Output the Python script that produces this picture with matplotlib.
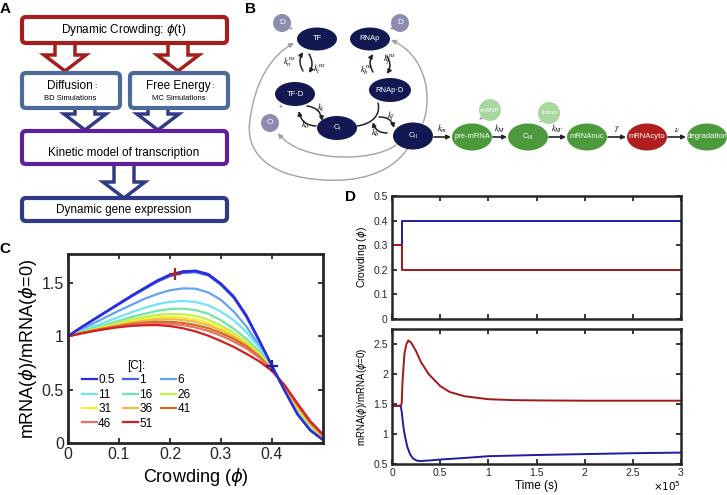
import numpy as np
import matplotlib.pyplot as plt
from matplotlib.patches import FancyBboxPatch, FancyArrow, Ellipse, Circle, FancyArrowPatch
from matplotlib.path import Path

plt.rcParams['font.family'] = ['Liberation Sans', 'DejaVu Sans']
plt.rcParams['mathtext.fontset'] = 'dejavusans'

# ---- panel C: mRNA(phi)/mRNA(0) vs crowding, one curve per [C] ----
phi = [0, 0.025, 0.05, 0.075, 0.1, 0.125, 0.15, 0.175, 0.2, 0.225, 0.25,
       0.275, 0.3, 0.325, 0.35, 0.375, 0.4, 0.425, 0.45, 0.475, 0.5]
c_05 = [1.0, 1.08, 1.155, 1.23, 1.305, 1.38, 1.45, 1.52, 1.575, 1.605, 1.612,
        1.58, 1.49, 1.37, 1.19, 0.96, 0.72, 0.49, 0.27, 0.12, 0.03]
c_1 = [1.0, 1.079, 1.153, 1.227, 1.30, 1.373, 1.442, 1.51, 1.563, 1.593, 1.60,
       1.57, 1.48, 1.36, 1.18, 0.955, 0.72, 0.49, 0.27, 0.12, 0.03]
c_6 = [1.0, 1.06, 1.12, 1.18, 1.24, 1.295, 1.35, 1.395, 1.43, 1.448, 1.445,
       1.41, 1.34, 1.23, 1.09, 0.91, 0.715, 0.50, 0.28, 0.13, 0.035]
c_11 = [1.0, 1.045, 1.09, 1.135, 1.18, 1.225, 1.265, 1.30, 1.322, 1.33, 1.32,
        1.29, 1.23, 1.15, 1.04, 0.89, 0.71, 0.50, 0.29, 0.14, 0.04]
c_16 = [1.0, 1.037, 1.074, 1.11, 1.145, 1.18, 1.21, 1.238, 1.255, 1.258, 1.245,
        1.21, 1.15, 1.07, 0.975, 0.855, 0.705, 0.51, 0.31, 0.15, 0.045]
c_26 = [1.0, 1.033, 1.065, 1.095, 1.125, 1.155, 1.18, 1.20, 1.208, 1.205, 1.19,
        1.155, 1.10, 1.03, 0.945, 0.84, 0.70, 0.52, 0.32, 0.165, 0.05]
c_31 = [1.0, 1.031, 1.06, 1.087, 1.113, 1.138, 1.16, 1.175, 1.18, 1.175, 1.158,
        1.125, 1.075, 1.01, 0.93, 0.83, 0.695, 0.52, 0.335, 0.175, 0.055]
c_36 = [1.0, 1.03, 1.057, 1.082, 1.106, 1.128, 1.145, 1.157, 1.16, 1.153, 1.135,
        1.103, 1.055, 0.995, 0.92, 0.82, 0.69, 0.525, 0.345, 0.18, 0.06]
c_41 = [1.0, 1.028, 1.053, 1.076, 1.097, 1.115, 1.128, 1.135, 1.134, 1.125, 1.105,
        1.075, 1.03, 0.975, 0.905, 0.81, 0.685, 0.53, 0.355, 0.19, 0.07]
c_46 = [1.0, 1.026, 1.05, 1.072, 1.091, 1.107, 1.118, 1.12, 1.117, 1.105, 1.082,
        1.05, 1.005, 0.95, 0.885, 0.80, 0.68, 0.535, 0.36, 0.195, 0.075]
c_51 = [1.0, 1.025, 1.048, 1.068, 1.085, 1.097, 1.103, 1.104, 1.095, 1.075, 1.045,
        1.005, 0.955, 0.90, 0.835, 0.765, 0.675, 0.54, 0.37, 0.205, 0.08]
conc = ['0.5', '1', '6', '11', '16', '26', '31', '36', '41', '46', '51']
curves = [c_05, c_1, c_6, c_11, c_16, c_26, c_31, c_36, c_41, c_46, c_51]
colors = ['#2b2be0', '#3f62ea', '#62a4f0', '#6fe6f4', '#72e6a6', '#c2f04a',
          '#f4f030', '#f0b848', '#d06a22', '#e27462', '#d42020']
marker_red = (0.21, 1.585)
marker_blue = (0.40, 0.72)

# ---- panel D: crowding steps and response ----
t_step = [0, 0.1, 0.1, 3.0]          # x 10^5 s
phi_blue = [0.3, 0.3, 0.4, 0.4]
phi_red = [0.3, 0.3, 0.2, 0.2]
t_red = [0, 0.09, 0.10, 0.11, 0.13, 0.15, 0.17, 0.2, 0.25, 0.3, 0.38, 0.5,
         0.6, 0.75, 1.0, 1.25, 1.5, 2.0, 3.0]
r_red = [1.47, 1.47, 1.5, 1.9, 2.35, 2.5, 2.56, 2.52, 2.38, 2.2, 2.0, 1.80,
         1.70, 1.63, 1.58, 1.565, 1.56, 1.555, 1.555]
t_blue = [0, 0.09, 0.10, 0.12, 0.135, 0.16, 0.19, 0.22, 0.26, 0.3, 0.4, 0.5,
          0.75, 1.0, 1.5, 2.0, 2.5, 3.0]
r_blue = [1.47, 1.47, 1.38, 1.1, 0.96, 0.78, 0.655, 0.59, 0.555, 0.55, 0.56,
          0.575, 0.60, 0.63, 0.65, 0.665, 0.68, 0.69]

W, H = 727, 495
fig = plt.figure(figsize=(W / 100, H / 100), dpi=100)

def frac(x0, y0, x1, y1):
    return [x0 / W, 1 - y1 / H, (x1 - x0) / W, (y1 - y0) / H]

def matlab_style(ax, lw=1.8, fs=11):
    for s in ax.spines.values():
        s.set_linewidth(lw)
        s.set_color('#262626')
    ax.tick_params(direction='in', top=True, right=True, length=3.5,
                   width=1.3, colors='#262626', labelsize=fs, pad=3)

# overlay in pixel coordinates for panels A and B
ov = fig.add_axes([0, 0, 1, 1])
ov.set_xlim(0, W)
ov.set_ylim(H, 0)
ov.axis('off')

def box(x0, y0, x1, y1, col):
    ov.add_patch(FancyBboxPatch((x0, y0), x1 - x0, y1 - y0,
                                boxstyle='round,pad=0,rounding_size=4',
                                fc='white', ec=col, lw=3))

def hollow(x, y0, y1, col):
    ov.add_patch(FancyArrow(x, y0, 0, y1 - y0, width=20, head_width=42,
                            head_length=16, length_includes_head=True,
                            fc='white', ec=col, lw=2.5))

red_c, steel, purple, navy = '#a31f1e', '#4c6b9b', '#5e1f9b', '#2f3b85'
hollow(65, 42, 71, red_c)
hollow(178, 42, 71, red_c)
hollow(85, 107, 130, navy)
hollow(158, 107, 130, navy)
hollow(124, 164, 198, navy)
box(22, 17, 227, 43, red_c)
box(22, 73, 120, 108, steel)
box(130, 73, 228, 108, steel)
box(22, 131, 227, 164, purple)
box(22, 198, 227, 221, navy)
ov.text(124, 30, r'Dynamic Crowding: $\phi$(t)', ha='center', va='center', fontsize=8.5)
ov.text(70, 86, 'Diffusion', ha='center', va='center', fontsize=8.5)
ov.text(94, 87, ':', ha='left', va='center', fontsize=6)
ov.text(70, 98, 'BD Simulations', ha='center', va='center', fontsize=5.5)
ov.text(178, 86, 'Free Energy', ha='center', va='center', fontsize=8.5)
ov.text(211, 87, ':', ha='left', va='center', fontsize=6)
ov.text(179, 98, 'MC Simulations', ha='center', va='center', fontsize=5.5)
ov.text(124, 153, 'Kinetic model of transcription', ha='center', va='center', fontsize=8.5)
ov.text(124, 210, 'Dynamic gene expression', ha='center', va='center', fontsize=8.5)

for lab, (x, y) in {'A': (5, 9), 'B': (250, 9), 'C': (5, 249), 'D': (351, 197)}.items():
    ov.text(x, y, lab, ha='center', va='center', fontsize=11, fontweight='bold')

# panel B network
dark = '#141852'
green = '#4c9a3c'
def node(x, y, txt, col, w=40, h=24, fs=5.5):
    ov.add_patch(Ellipse((x, y), w, h, fc=col, ec='none'))
    ov.text(x, y, txt, color='white', ha='center', va='center', fontsize=fs)

def ball(x, y, txt, col, r=9, fs=6):
    ov.add_patch(Circle((x, y), r, fc=col, ec='none'))
    ov.text(x, y, txt, color='white', ha='center', va='center', fontsize=fs)

def arr(a, b, rad=0.0, col='#222222', lw=1.1, ms=6):
    ov.add_patch(FancyArrowPatch(a, b, connectionstyle=f'arc3,rad={rad}',
                                 arrowstyle='-|>', mutation_scale=ms,
                                 color=col, lw=lw, shrinkA=0, shrinkB=0))

def curve(pts, col='#a0a0a0', lw=1.0, head=True):
    codes = [Path.MOVETO] + [Path.CURVE4] * (len(pts) - 1)
    ov.add_patch(FancyArrowPatch(path=Path(pts, codes),
                                 arrowstyle='-|>' if head else '-',
                                 mutation_scale=7, color=col, lw=lw))

gray = '#a2a2a2'
curve([(396, 145), (372, 163), (300, 162), (278, 133)], gray)
curve([(408, 148), (390, 175), (355, 182), (325, 180),
       (265, 177), (245, 150), (250, 120),
       (255, 80), (272, 55), (294, 43)], gray)
curve([(423, 123), (433, 95), (425, 55), (391, 40)], gray)

ball(282, 23, 'D', '#8c8cb0')
ball(400, 23, 'D', '#8c8cb0')
ball(270, 123, 'O', '#8c8cb0')
ov.text(291, 29, '+', ha='center', va='center', fontsize=5, color='#555555')
ov.text(392, 29, '+', ha='center', va='center', fontsize=5, color='#555555')
ov.text(281, 108, '+', ha='center', va='center', fontsize=5, color='#555555')
node(317, 39, 'TF', dark, h=23)
node(370, 39, 'RNAp', dark, h=23)
node(295, 94, 'TF·D', dark)
node(390, 90, 'RNAp·D', dark, w=42)
node(337, 128, r'C$_\mathrm{I}$', dark)
node(413, 136, r'C$_\mathrm{II}$', dark, h=27)

arr((303, 71), (303, 52), rad=-0.3)
arr((309, 54), (309, 73), rad=-0.3)
arr((373, 72), (373, 54), rad=-0.3)
arr((387, 56), (387, 74), rad=-0.3)
arr((307, 106), (322, 121), rad=-0.4)
arr((316, 126), (299, 111), rad=-0.4)
curve([(357, 126), (372, 124), (381, 115), (378, 103)], '#222222', lw=1.1, head=False)
arr((379, 117), (394, 128), rad=-0.4)
arr((387, 133), (373, 122), rad=-0.4)

mk = dict(ha='center', va='center', fontsize=6.5, math_fontfamily='stix')
ov.text(289, 62, r'$k_o^{ns}$', **mk)
ov.text(319, 69, r'$k_t^{ns}$', **mk)
ov.text(366, 70, r'$k_b^{ns}$', **mk)
ov.text(389, 60, r'$k_f^{ns}$', **mk)
ov.text(321, 108, r'$k_t$', **mk)
ov.text(305, 125, r'$k_o$', **mk)
ov.text(391, 116, r'$k_f$', **mk)
ov.text(376, 133, r'$k_b$', **mk)

chain = [(472, 'pre-mRNA', green), (528, r'C$_\mathrm{III}$', green),
         (587, 'mRNAnuc', green), (647, 'mRNAcyto', '#b01e1e'),
         (707, 'degradation', green)]
for x, txt, col in chain:
    node(x, 137, txt, col, w=40, h=27, fs=5.5)
rates = [r'$k_m$', r'$k_M$', r'$k_{M\prime}$', r'$\gamma$', r'$\nu$']
xs = [413, 472, 528, 587, 647, 707]
for i, r in enumerate(rates):
    a, b = xs[i] + 20, xs[i + 1] - 20
    arr((a + 1, 137), (b - 1, 137), lw=1.2)
    ov.text((a + b) / 2, 129, r, **mk)
ball(490, 110, 'snRNP', '#a8d8a0', r=11, fs=4.5)
ball(549, 113, 'Intron', '#a8d8a0', r=11, fs=4.5)
ov.text(481, 120, '+', ha='center', va='center', fontsize=5, color='#555555')
ov.text(540, 122, '-', ha='center', va='center', fontsize=6, color='#555555')

# panel C
axc = fig.add_axes(frac(68, 254, 323, 443))
lines = []
for y, c, lab in zip(curves, colors, conc):
    ln, = axc.plot(phi, y, color=c, lw=1.6, label=lab)
    lines.append(ln)
# redraw the top curve so blue sits above
axc.plot(phi, c_05, color=colors[0], lw=1.8)
axc.plot(*marker_red, marker='+', color='#a02828', ms=8, mew=1.6)
axc.plot(*marker_blue, marker='+', color='#2020a8', ms=8, mew=1.6)
axc.set_xlim(0, 0.5)
axc.set_ylim(0, 1.77)
axc.set_xticks([0, 0.1, 0.2, 0.3, 0.4])
axc.set_xticklabels(['0', '0.1', '0.2', '0.3', '0.4'])
axc.set_yticks([0, 0.5, 1, 1.5])
axc.set_yticklabels(['0', '0.5', '1', '1.5'])
matlab_style(axc, lw=2.0, fs=11.5)
axc.set_xlabel(r'Crowding ($\phi$)', fontsize=13, labelpad=3)
axc.set_ylabel(r'mRNA($\phi$)/mRNA($\phi$=0)', fontsize=13, labelpad=2)
order = [0, 3, 6, 9, 1, 4, 7, 10, 2, 5, 8]
leg = axc.legend([lines[i] for i in order], [conc[i] for i in order], ncol=3,
                 frameon=False, fontsize=8.5, title='[C]:', title_fontsize=8.5,
                 loc='upper left', bbox_to_anchor=(0.03, 0.47),
                 handlelength=1.3, handletextpad=0.1, columnspacing=0.7,
                 labelspacing=0.2, borderpad=0)

# panel D top
axd1 = fig.add_axes(frac(392, 196, 681, 319))
axd1.plot(t_step, phi_blue, color='#1e1ea0', lw=1.4)
axd1.plot(t_step, phi_red, color='#a01818', lw=1.4)
axd1.set_xlim(0, 3)
axd1.set_ylim(0, 0.5)
axd1.set_xticks(np.arange(0, 3.01, 0.5))
axd1.set_xticklabels([])
axd1.set_yticks([0, 0.1, 0.2, 0.3, 0.4, 0.5])
axd1.set_yticklabels(['0', '0.1', '0.2', '0.3', '0.4', '0.5'])
matlab_style(axd1, lw=1.8, fs=7.5)
axd1.set_ylabel(r'Crowding ($\phi$)', fontsize=7.5, labelpad=3)

# panel D bottom
axd2 = fig.add_axes(frac(392, 329, 681, 464))
axd2.plot(t_blue, r_blue, color='#1e1ea0', lw=1.4)
axd2.plot(t_red, r_red, color='#a01818', lw=1.4)
axd2.set_xlim(0, 3)
axd2.set_ylim(0.5, 2.75)
axd2.set_xticks(np.arange(0, 3.01, 0.5))
axd2.set_xticklabels(['0', '0.5', '1', '1.5', '2', '2.5', '3'])
axd2.set_yticks([0.5, 1, 1.5, 2, 2.5])
axd2.set_yticklabels(['0.5', '1', '1.5', '2', '2.5'])
matlab_style(axd2, lw=1.8, fs=7.5)
axd2.set_xlabel('Time (s)', fontsize=8.5, labelpad=1)
axd2.set_ylabel(r'mRNA($\phi$)/mRNA($\phi$=0)', fontsize=7, labelpad=3)
ov.text(681, 486, r'$\times10^5$', ha='right', va='center', fontsize=7.5)

fig.savefig('out.png', dpi=100)
